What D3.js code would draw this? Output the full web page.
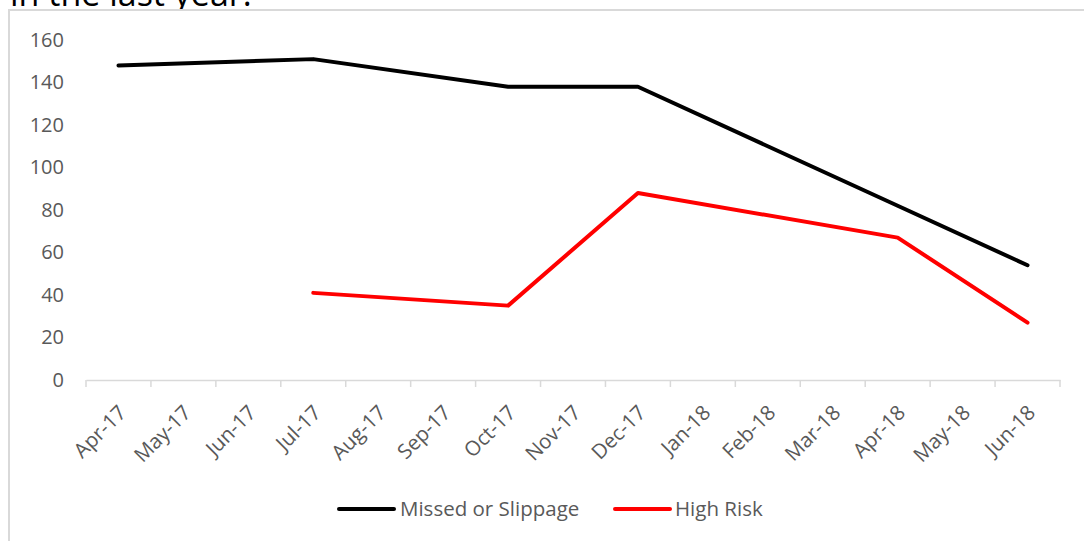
<!DOCTYPE html>
<html>
<head>
<meta charset="utf-8">
<script src="https://cdn.jsdelivr.net/npm/d3@7/dist/d3.min.js"></script>
<style>
  html, body { margin: 0; padding: 0; background: #fff; }
  svg { display: block; }
  text { font-family: "Open Sans", "Noto Sans", sans-serif; }
</style>
</head>
<body>
<svg id="chart" width="1084" height="541"></svg>
<script>
const months = ["Apr-17","May-17","Jun-17","Jul-17","Aug-17","Sep-17","Oct-17","Nov-17","Dec-17","Jan-18","Feb-18","Mar-18","Apr-18","May-18","Jun-18"];
const missedDates = ["Apr-17","Jul-17","Oct-17","Dec-17","Apr-18","Jun-18"];
const missedValues = [148, 151, 138, 138, 82, 54];
const highRiskDates = ["Jul-17","Oct-17","Dec-17","Apr-18","Jun-18"];
const highRiskValues = [41, 35, 88, 67, 27];
const yTicks = [0, 20, 40, 60, 80, 100, 120, 140, 160];
const seriesNames = ["Missed or Slippage", "High Risk"];
const seriesColors = ["#000000", "#ff0000"];

const svg = d3.select("#chart");
const labelColor = "#595959";
const axisColor = "#d9d9d9";
const fs = 20.5;

// cut-off heading text above the chart (as in the reference)
svg.append("text")
  .attr("x", 10).attr("y", 6)
  .attr("font-size", 34).attr("fill", "#000")
  .text("in the last year.");

// chart area border
svg.append("rect")
  .attr("x", 9).attr("y", 10)
  .attr("width", 1090).attr("height", 560)
  .attr("fill", "white").attr("stroke", axisColor).attr("stroke-width", 2);

const x = d3.scaleBand().domain(months).range([86, 1060]);
const cx = d => x(d) + x.bandwidth() / 2;
const y = d3.scaleLinear().domain([0, 160]).range([380, 40]);

// y axis labels
const yAxis = d3.axisLeft(y).tickValues(yTicks).tickSize(0).tickPadding(22);
const gy = svg.append("g").attr("transform", "translate(86,0)").call(yAxis);
gy.select(".domain").remove();
gy.selectAll("text").attr("font-size", 20).attr("fill", labelColor)
  .attr("font-family", "Open Sans, sans-serif");

// x axis
const xAxis = d3.axisBottom(x).tickSize(0).tickPadding(0);
const gx = svg.append("g").attr("transform", "translate(0,380)").call(xAxis);
gx.select(".domain").attr("stroke", axisColor).attr("stroke-width", 1.5);
gx.selectAll(".tick line").remove();
gx.selectAll(".tick text")
  .attr("font-size", fs).attr("fill", labelColor)
  .attr("font-family", "Open Sans, sans-serif")
  .attr("text-anchor", "end")
  .attr("dy", null)
  .attr("transform", "translate(9,34) rotate(-45)");
// boundary tick marks (between categories)
const boundaries = months.map(d => x(d)).concat([x.range()[1]]);
gx.selectAll(".bnd").data(boundaries).enter().append("line")
  .attr("x1", d => d).attr("x2", d => d)
  .attr("y1", 0).attr("y2", 7)
  .attr("stroke", axisColor).attr("stroke-width", 1.5);

// lines
const line = d3.line().x(d => cx(d[0])).y(d => y(d[1]));
const missed = missedDates.map((d, i) => [d, missedValues[i]]);
const high = highRiskDates.map((d, i) => [d, highRiskValues[i]]);
[missed, high].forEach((data, i) => {
  svg.append("path").datum(data)
    .attr("d", line)
    .attr("fill", "none")
    .attr("stroke", seriesColors[i])
    .attr("stroke-width", 4)
    .attr("stroke-linejoin", "round")
    .attr("stroke-linecap", "round");
});

// legend
const legendItems = [
  { x1: 339, x2: 394, tx: 400 },
  { x1: 615, x2: 670, tx: 675 }
];
legendItems.forEach((it, i) => {
  svg.append("line")
    .attr("x1", it.x1).attr("x2", it.x2).attr("y1", 509).attr("y2", 509)
    .attr("stroke", seriesColors[i]).attr("stroke-width", 4)
    .attr("stroke-linecap", "round");
  svg.append("text")
    .attr("x", it.tx).attr("y", 509).attr("dy", "0.35em")
    .attr("font-size", fs).attr("fill", labelColor)
    .text(seriesNames[i]);
});
</script>
</body>
</html>
